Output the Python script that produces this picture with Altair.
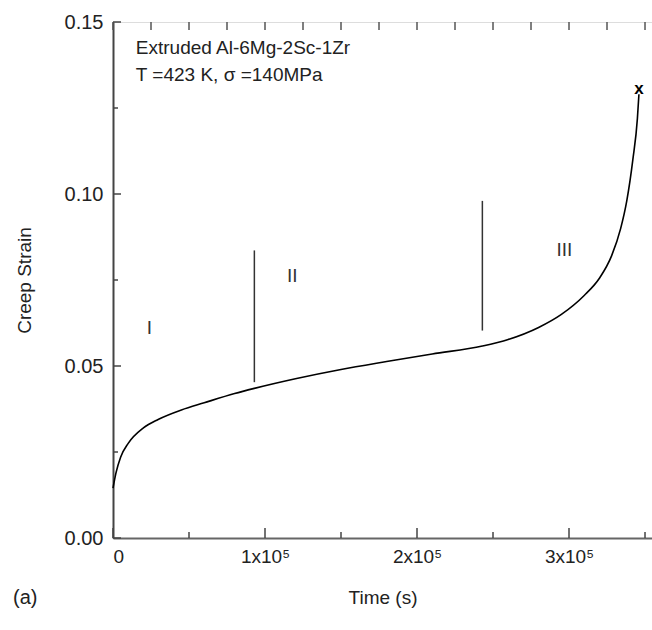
import altair as alt
import pandas as pd

# Creep curve (time in s, creep strain)
time_s = [0, 0.02e5, 0.05e5, 0.1e5, 0.2e5, 0.3e5, 0.45e5, 0.6e5, 0.8e5, 0.93e5, 1.2e5, 1.5e5,
          1.8e5, 2.1e5, 2.43e5, 2.6e5, 2.8e5, 2.95e5, 3.1e5, 3.2e5, 3.28e5, 3.34e5, 3.38e5,
          3.42e5, 3.45e5, 3.46e5]
strain = [0.0145, 0.019, 0.0235, 0.0275, 0.032, 0.0345, 0.0372, 0.0393, 0.042, 0.0435, 0.0463,
          0.049, 0.0513, 0.0535, 0.0558, 0.0577, 0.0612, 0.065, 0.0705, 0.0755, 0.082, 0.090,
          0.098, 0.110, 0.122, 0.129]

# stage boundary lines
bound_t = [0.93e5, 2.43e5]
bound_lo = [0.0453, 0.0603]
bound_hi = [0.0836, 0.098]

# stage labels
stage_txt = ["I", "II", "III"]
stage_t = [0.24e5, 1.18e5, 2.97e5]
stage_y = [0.061, 0.0763, 0.0836]

# fracture marker
frac_t = [3.46e5]
frac_y = [0.1305]

# annotation
note_txt = ["Extruded Al-6Mg-2Sc-1Zr", "T =423 K, \u03c3 =140MPa"]
note_t = [0.15e5, 0.15e5]
note_y = [0.1425, 0.1345]

# tick positions
x_major = [0, 1e5, 2e5, 3e5]
x_minor = [0.5e5, 1.5e5, 2.5e5, 3.5e5]
x_top = [i * 0.25e5 for i in range(15)]
y_major = [0.0, 0.05, 0.10, 0.15]
y_minor = [0.025, 0.075, 0.125]

XMAX = 3.546e5
W, H = 539, 516
FONT = "Liberation Sans"

xs = alt.Scale(domain=[0, XMAX], nice=False, zero=False)
ys = alt.Scale(domain=[0, 0.15], nice=False)

curve_df = pd.DataFrame({"t": time_s, "s": strain})
base_x = alt.X("t:Q", scale=xs, axis=alt.Axis(
    title="Time (s)", values=x_major, ticks=False, grid=False, labelFontSize=19,
    labelFont=FONT, titleFont=FONT, titleFontSize=19, titleFontWeight="normal",
    labelColor="#222", titleColor="#222", labelPadding=9, titlePadding=22,
    domainColor="#666", domainWidth=2,
    labelExpr="datum.value == 0 ? '0' : format(datum.value/1e5,'d') + 'x10\u2075'"))
base_y = alt.Y("s:Q", scale=ys, axis=alt.Axis(
    title="Creep Strain", values=y_major, ticks=False, grid=False, format=".2f",
    labelFontSize=20, labelFont=FONT, titleFont=FONT, titleFontSize=19,
    titleFontWeight="normal", labelColor="#222", titleColor="#222", labelPadding=10,
    titlePadding=30, domainColor="#444", domainWidth=2))

curve = alt.Chart(curve_df).mark_line(color="black", strokeWidth=1.6,
                                      interpolate="monotone").encode(x=base_x, y=base_y)

bd = pd.DataFrame({"t": bound_t, "lo": bound_lo, "hi": bound_hi})
bounds = alt.Chart(bd).mark_rule(color="#333", strokeWidth=1.5).encode(
    x=alt.X("t:Q", scale=xs), y=alt.Y("lo:Q", scale=ys), y2="hi:Q")

sd = pd.DataFrame({"txt": stage_txt, "t": stage_t, "y": stage_y})
stages = alt.Chart(sd).mark_text(font=FONT, fontSize=19, color="#333").encode(
    x=alt.X("t:Q", scale=xs), y=alt.Y("y:Q", scale=ys), text="txt:N")

fd = pd.DataFrame({"t": frac_t, "y": frac_y})
frac = alt.Chart(fd).mark_text(text="x", font=FONT, fontSize=17, fontWeight="bold",
                               color="black").encode(
    x=alt.X("t:Q", scale=xs), y=alt.Y("y:Q", scale=ys))

nd = pd.DataFrame({"txt": note_txt, "t": note_t, "y": note_y})
notes = alt.Chart(nd).mark_text(font=FONT, fontSize=19, color="#222", align="left").encode(
    x=alt.X("t:Q", scale=xs), y=alt.Y("y:Q", scale=ys), text="txt:N")

# inward ticks
bx_maj = alt.Chart(pd.DataFrame({"t": x_major})).mark_rule(color="#444", strokeWidth=1.5).encode(
    x=alt.X("t:Q", scale=xs), y=alt.value(H), y2=alt.value(H - 10))
bx_min = alt.Chart(pd.DataFrame({"t": x_minor})).mark_rule(color="#444", strokeWidth=1.5).encode(
    x=alt.X("t:Q", scale=xs), y=alt.value(H), y2=alt.value(H - 6))
top_t = alt.Chart(pd.DataFrame({"t": x_top})).mark_rule(color="#555", strokeWidth=1.5).encode(
    x=alt.X("t:Q", scale=xs), y=alt.value(0), y2=alt.value(8))
ly_maj = alt.Chart(pd.DataFrame({"s": y_major})).mark_rule(color="#444", strokeWidth=1.5).encode(
    y=alt.Y("s:Q", scale=ys), x=alt.value(0), x2=alt.value(8))
ly_min = alt.Chart(pd.DataFrame({"s": y_minor})).mark_rule(color="#444", strokeWidth=1.5).encode(
    y=alt.Y("s:Q", scale=ys), x=alt.value(0), x2=alt.value(5))

panel = alt.Chart(pd.DataFrame({"txt": ["(a)"]})).mark_text(
    font=FONT, fontSize=20, color="#222", align="left").encode(
    x=alt.value(-100), y=alt.value(H + 60), text="txt:N")

chart = alt.layer(curve, bounds, stages, frac, notes, bx_maj, bx_min, top_t, ly_maj, ly_min,
                  panel).properties(
    width=W, height=H,
    autosize=alt.AutoSizeParams(type="none"),
    padding={"left": 113, "top": 22, "right": 0, "bottom": 92},
).configure_view(stroke="#555", strokeWidth=2).configure(background="white")

chart.save("out.html", embed_options={"renderer": "svg", "actions": False})
